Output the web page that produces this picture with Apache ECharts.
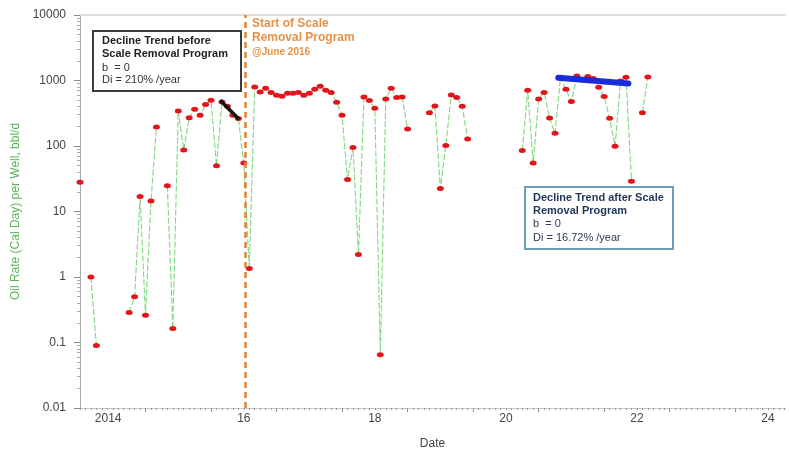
<!DOCTYPE html>
<html><head><meta charset="utf-8">
<script src="https://cdn.jsdelivr.net/npm/echarts@6/dist/echarts.min.js"></script>
<style>html,body{margin:0;padding:0;background:#fff}#c{width:789px;height:452px}</style>
</head><body><div id="c"></div>
<script>
// Monthly oil rate per well (bbl/d), Jan..Dec for each year; null = no data
const firstYear = 2014;
const rate2014 = [28, null, 1.0, 0.09, null, null, null, null, null, 0.286, 0.5, 16.9];
const rate2015 = [0.26, 14.5, 195, null, 24.7, 0.163, 342, 87, 271, 363, 294, 429];
const rate2016 = [499, 50, 470, 404, 294, 262, 55, 1.35, 798, 669, 762, 655];
const rate2017 = [596, 576, 640, 640, 655, 596, 640, 736, 818, 710, 655, 466];
const rate2018 = [294, 30.8, 95, 2.2, 561, 494, 377, 0.065, 522, 762, 549, 561];
const rate2019 = [181, null, null, null, 323, 408, 22.4, 102, 602, 549, 404, 128];
const rate2020 = [null, null, null, null, null, null, null, null, null, 85, 710, 55];
const rate2021 = [522, 655, 267, 156, 1120, 736, 476, 1170, 1020, 1150, 1070, 790];
const rate2022 = [570, 265, 99, 980, 1120, 29, null, 323, 1135];

const yearTickLabels = ['2014', '16', '18', '20', '22', '24'];
const yearTickPositions = [2014.43, 2016.5, 2018.5, 2020.5, 2022.5, 2024.5];
const rateTicks = [0.01, 0.1, 1, 10, 100, 1000, 10000];

const scaleRemovalStart = 2016.52;
const trendBeforeX = [2016.14, 2016.43];
const trendBeforeY = [499, 253];
const trendAfterX = [2021.30, 2022.37];
const trendAfterY = [1104, 900];

const allRates = [rate2014, rate2015, rate2016, rate2017, rate2018, rate2019, rate2020, rate2021, rate2022];
const series1 = [];
allRates.forEach((arr, i) => arr.forEach((v, m) => {
  series1.push([firstYear + i + m / 12, v == null ? '-' : v]);
}));
const dots = series1.filter(d => d[1] !== '-');

const xMin = 2014, xMax = 2024.76;
const majorXTicks = [];
for (let y = 2015; y <= 2024; y++) majorXTicks.push(y);
const minorXTicks = [];
for (let y = 2014; y <= 2024; y++) for (let m = 0; m < 12; m++) { const v = y + m / 12; if (v <= xMax) minorXTicks.push(v); }
const minorYTicks = [];
[0.01, 0.1, 1, 10, 100, 1000].forEach(d => { for (let k = 2; k <= 9; k++) minorYTicks.push(d * k); });

const FONT = '"Liberation Sans", Arial, sans-serif';
const chart = echarts.init(document.getElementById('c'), null, {renderer: 'canvas'});

function fmtRate(v) {
  if (v >= 1) return String(Math.round(v));
  return String(+v.toPrecision(1));
}
function fmtYear(v) {
  let best = 0;
  yearTickPositions.forEach((p, i) => { if (Math.abs(p - v) < Math.abs(yearTickPositions[best] - v)) best = i; });
  return yearTickLabels[best];
}

const baseX = {type: 'value', min: xMin, max: xMax, splitLine: {show: false}};
const baseY = {type: 'log', logBase: 10, min: 0.01, max: 10000, splitLine: {show: false}};

chart.setOption({
  animation: false,
  backgroundColor: '#fff',
  grid: {left: 80, right: 4, top: 15, bottom: 44, containLabel: false, outerBoundsMode: 'none'},
  xAxis: [
    Object.assign({}, baseX, {
      position: 'bottom',
      axisLine: {show: true, onZero: false, lineStyle: {color: '#c4c4c4', width: 1}},
      axisTick: {show: true, customValues: majorXTicks, length: 4, lineStyle: {color: '#888'}},
      axisLabel: {
        customValues: yearTickPositions,
        formatter: fmtYear,
        margin: 5, color: '#444', fontSize: 12, fontFamily: FONT
      },
      name: 'Date', nameLocation: 'middle', nameGap: 30,
      nameTextStyle: {color: '#444', fontSize: 12, fontFamily: FONT}
    }),
    Object.assign({}, baseX, {
      position: 'bottom',
      axisLine: {show: false, onZero: false},
      axisTick: {show: true, customValues: minorXTicks, length: 2, lineStyle: {color: '#999'}},
      axisLabel: {show: false}
    }),
    Object.assign({}, baseX, {
      position: 'top',
      axisLine: {show: true, onZero: false, lineStyle: {color: '#dcdcdc', width: 2}},
      axisTick: {show: false},
      axisLabel: {show: false}
    })
  ],
  yAxis: [
    Object.assign({}, baseY, {
      position: 'left',
      axisLine: {show: true, lineStyle: {color: '#aaa'}},
      axisTick: {show: true, customValues: rateTicks, length: 6, lineStyle: {color: '#888'}},
      axisLabel: {customValues: rateTicks, formatter: fmtRate, margin: 14, color: '#444', fontSize: 12, fontFamily: FONT},
      name: 'Oil Rate (Cal Day) per Well, bbl/d', nameLocation: 'middle', nameGap: 53,
      nameTextStyle: {color: '#5bb55b', fontSize: 12, fontFamily: FONT}
    }),
    Object.assign({}, baseY, {
      position: 'left',
      axisLine: {show: false},
      axisTick: {show: true, customValues: minorYTicks, length: 3, lineStyle: {color: '#aaa'}},
      axisLabel: {show: false}
    })
  ],
  series: [
    {
      type: 'line', data: series1, xAxisIndex: 0, yAxisIndex: 0,
      showSymbol: false, connectNulls: false, z: 2,
      lineStyle: {color: '#7fd77f', width: 1.1, type: [6, 2]},
      markLine: {
        silent: true, symbol: ['none', 'none'], label: {show: false},
        lineStyle: {color: '#E5832F', width: 2.5, type: [6, 4]},
        data: [{xAxis: scaleRemovalStart}]
      }
    },
    {
      type: 'scatter', data: dots, xAxisIndex: 0, yAxisIndex: 0, z: 3,
      symbol: 'circle', symbolSize: [7, 5], itemStyle: {color: '#e3141c', opacity: 1}
    },
    {
      type: 'line', data: trendBeforeX.map((x, i) => [x, trendBeforeY[i]]), xAxisIndex: 0, yAxisIndex: 0,
      showSymbol: false, z: 5, lineStyle: {color: '#111', width: 3.5}
    },
    {
      type: 'line', data: trendAfterX.map((x, i) => [x, trendAfterY[i]]), xAxisIndex: 0, yAxisIndex: 0,
      showSymbol: false, z: 5, lineStyle: {color: '#1a2bd8', width: 6, cap: 'round'}
    }
  ],
  graphic: [
    {type: 'rect', shape: {x: 93, y: 31, width: 148, height: 60}, style: {fill: '#fff', stroke: '#3c3c3c', lineWidth: 2}, z: 100},
    {type: 'text', x: 102, y: 41, style: {text: 'Decline Trend before', font: 'bold 11px ' + FONT, fill: '#222', verticalAlign: 'middle'}, z: 101},
    {type: 'text', x: 102, y: 54, style: {text: 'Scale Removal Program', font: 'bold 11px ' + FONT, fill: '#222', verticalAlign: 'middle'}, z: 101},
    {type: 'text', x: 102, y: 68, style: {text: 'b  = 0', font: '11px ' + FONT, fill: '#333', verticalAlign: 'middle'}, z: 101},
    {type: 'text', x: 102, y: 80, style: {text: 'Di = 210% /year', font: '11px ' + FONT, fill: '#333', verticalAlign: 'middle'}, z: 101},

    {type: 'rect', shape: {x: 525, y: 187, width: 148, height: 62}, style: {fill: '#fff', stroke: '#6b9cbc', lineWidth: 2}, z: 100},
    {type: 'text', x: 533, y: 198, style: {text: 'Decline Trend after Scale', font: 'bold 11px ' + FONT, fill: '#1f3658', verticalAlign: 'middle'}, z: 101},
    {type: 'text', x: 533, y: 211, style: {text: 'Removal Program', font: 'bold 11px ' + FONT, fill: '#1f3658', verticalAlign: 'middle'}, z: 101},
    {type: 'text', x: 533, y: 224, style: {text: 'b  = 0', font: '11px ' + FONT, fill: '#2a3a55', verticalAlign: 'middle'}, z: 101},
    {type: 'text', x: 533, y: 238, style: {text: 'Di = 16.72% /year', font: '11px ' + FONT, fill: '#2a3a55', verticalAlign: 'middle'}, z: 101},

    {type: 'text', x: 252, y: 24, style: {text: 'Start of Scale', font: 'bold 12px ' + FONT, fill: '#E69147', verticalAlign: 'middle'}, z: 101},
    {type: 'text', x: 252, y: 38, style: {text: 'Removal Program', font: 'bold 12px ' + FONT, fill: '#E69147', verticalAlign: 'middle'}, z: 101},
    {type: 'text', x: 252, y: 52, style: {text: '@June 2016', font: 'bold 10px ' + FONT, fill: '#E69147', verticalAlign: 'middle'}, z: 101}
  ]
});
</script></body></html>
